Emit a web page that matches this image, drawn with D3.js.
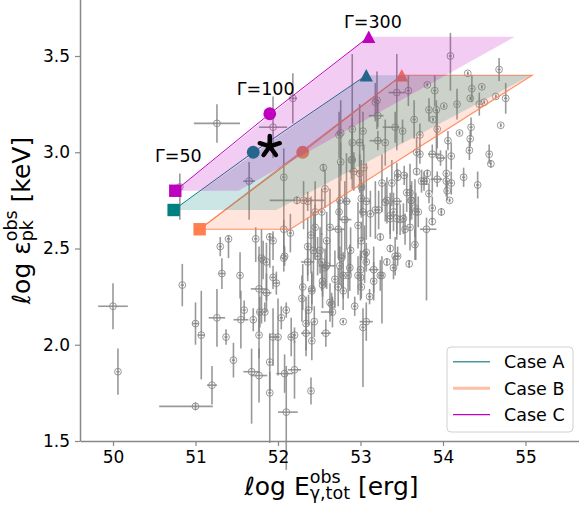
<!DOCTYPE html>
<html><head><meta charset="utf-8">
<script src="https://cdn.jsdelivr.net/npm/d3@7"></script>
<style>body{margin:0;background:#fff;} svg{display:block;font-family:"DejaVu Sans",sans-serif;}</style>
</head><body>
<svg id="chart" width="579" height="506"></svg>
<script>
// ---------------- data ----------------
const xTicks = [50, 51, 52, 53, 54, 55];
const yTicks = [1.5, 2.0, 2.5, 3.0, 3.5];
const xDomain = [49.6, 55.7];
const yDomain = [1.5, 3.8];

// GRB sample: [logE, logEp, xErrLo, xErrHi, yErrLo, yErrHi]
const grbData = [
[50.00,2.20,0.18,0.18,0.12,0.12],[50.06,1.86,0.02,0.02,0.12,0.12],[50.84,2.31,0.02,0.02,0.11,0.11],
[51.00,2.11,0.04,0.04,0.11,0.11],[51.07,2.05,0.04,0.04,0.23,0.23],[51.00,1.68,0.44,0.21,0.02,0.02],
[51.20,1.79,0.06,0.06,0.10,0.10],[51.26,2.14,0.10,0.10,0.15,0.15],[51.32,2.37,0.04,0.04,0.08,0.08],
[51.37,2.04,0.02,0.02,0.04,0.04],[51.46,1.92,0.02,0.02,0.09,0.09],[51.54,2.36,0.02,0.02,0.12,0.12],
[51.55,2.13,0.09,0.09,0.15,0.15],[51.59,2.18,0.02,0.02,0.05,0.05],[51.70,2.13,0.02,0.02,0.06,0.06],
[51.68,1.86,0.10,0.10,0.27,0.12],[51.77,2.05,0.02,0.02,0.12,0.12],[51.77,1.84,0.10,0.10,0.14,0.14],
[51.77,2.29,0.10,0.10,0.22,0.22],[51.78,2.17,0.03,0.03,0.08,0.08],[51.82,2.44,0.02,0.02,0.10,0.10],
[51.84,2.17,0.02,0.02,0.05,0.05],[51.86,2.27,0.06,0.06,0.10,0.10],[51.90,1.91,0.02,0.02,0.15,0.15],
[51.90,1.75,0.02,0.02,0.26,0.11],[51.94,2.04,0.05,0.05,0.15,0.15],[51.94,2.35,0.03,0.03,0.06,0.06],
[51.98,2.32,0.03,0.03,0.06,0.06],[52.00,2.04,0.02,0.02,0.20,0.20],[52.08,2.46,0.02,0.02,0.05,0.05],
[52.04,2.14,0.02,0.02,0.06,0.06],[52.08,1.85,0.10,0.10,0.10,0.10],[52.10,2.18,0.02,0.02,0.04,0.04],
[52.10,1.65,0.10,0.14,0.30,0.24],[52.16,2.04,0.03,0.03,0.10,0.10],[52.20,2.05,0.02,0.02,0.04,0.04],
[52.20,1.87,0.08,0.08,0.15,0.15],[52.29,2.24,0.02,0.02,0.12,0.12],[52.34,2.11,0.02,0.02,0.14,0.14],
[52.34,2.06,0.06,0.06,0.12,0.12],[52.37,2.18,0.02,0.02,0.08,0.08],[52.40,1.76,0.02,0.02,0.07,0.07],
[52.41,2.02,0.02,0.02,0.10,0.10],[52.44,2.12,0.02,0.02,0.08,0.08],[52.41,2.28,0.03,0.03,0.10,0.10],
[52.58,2.06,0.06,0.06,0.07,0.07],[52.65,2.21,0.02,0.02,0.06,0.06],[52.66,2.17,0.14,0.02,0.08,0.08],
[52.79,2.12,0.01,0.01,0.01,0.01],[52.93,2.20,0.02,0.02,0.05,0.05],[53.03,2.09,0.02,0.02,0.31,0.10],
[52.79,2.28,0.02,0.02,0.10,0.10],[53.07,2.48,0.02,0.02,0.05,0.05],[53.07,2.43,0.02,0.02,0.05,0.05],
[53.32,2.43,0.01,0.01,0.02,0.02],[53.40,2.40,0.02,0.02,0.06,0.06],[53.45,2.46,0.03,0.03,0.05,0.05],
[53.59,2.42,0.01,0.01,0.02,0.02],[53.00,2.39,0.02,0.02,0.10,0.10],[53.16,2.39,0.06,0.06,0.12,0.12],
[53.26,2.36,0.02,0.02,0.25,0.10],[53.16,2.33,0.02,0.02,0.10,0.10],[53.01,2.30,0.02,0.02,0.06,0.06],
[53.11,2.25,0.02,0.02,0.04,0.04],[53.07,2.12,0.08,0.08,0.10,0.10],[53.80,2.60,0.08,0.12,0.37,0.06],
[54.09,3.50,0.02,0.02,0.18,0.12],[54.30,3.41,0.01,0.01,0.01,0.01],[54.68,3.43,0.02,0.02,0.06,0.06],
[54.47,3.34,0.01,0.01,0.01,0.01],[54.35,3.33,0.02,0.02,0.07,0.07],[54.33,3.28,0.01,0.01,0.01,0.01],
[54.64,3.29,0.01,0.01,0.01,0.01],[54.76,3.28,0.02,0.02,0.08,0.08],[54.44,3.25,0.02,0.02,0.06,0.06],
[54.50,3.26,0.01,0.01,0.01,0.01],[54.17,3.25,0.02,0.02,0.08,0.08],[54.01,3.24,0.01,0.01,0.01,0.01],
[53.83,3.22,0.02,0.02,0.06,0.06],[53.81,3.35,0.01,0.01,0.01,0.01],[53.58,3.32,0.02,0.02,0.08,0.08],
[53.44,3.31,0.10,0.10,0.30,0.20],[53.90,3.32,0.02,0.02,0.08,0.08],[53.92,3.22,0.02,0.02,0.25,0.05],
[53.65,3.17,0.02,0.02,0.10,0.10],[53.88,3.17,0.01,0.01,0.01,0.01],[53.72,3.09,0.02,0.02,0.06,0.06],
[54.20,3.10,0.01,0.01,0.01,0.01],[54.34,3.13,0.02,0.02,0.05,0.05],[54.33,3.07,0.02,0.02,0.04,0.04],
[54.32,3.01,0.02,0.02,0.05,0.05],[54.70,3.14,0.01,0.01,0.01,0.01],[54.56,2.99,0.02,0.02,0.05,0.05],
[54.58,2.94,0.01,0.01,0.02,0.02],[54.25,2.87,0.02,0.02,0.05,0.05],[54.42,2.83,0.02,0.02,0.07,0.07],
[54.10,2.98,0.02,0.02,0.07,0.07],[54.04,2.89,0.02,0.02,0.12,0.12],[54.04,2.85,0.02,0.02,0.04,0.04],
[53.93,2.86,0.08,0.06,0.04,0.04],[53.97,2.97,0.05,0.06,0.04,0.04],[53.87,2.99,0.05,0.09,0.20,0.05],
[53.68,3.00,0.02,0.02,0.08,0.08],[53.81,2.89,0.01,0.01,0.02,0.02],[53.68,2.90,0.01,0.01,0.02,0.02],
[53.77,2.85,0.02,0.02,0.05,0.05],[54.08,2.75,0.01,0.01,0.01,0.01],[54.05,2.80,0.02,0.02,0.05,0.05],
[53.98,2.69,0.01,0.01,0.02,0.02],[53.87,2.71,0.02,0.02,0.06,0.06],[53.87,2.64,0.01,0.01,0.02,0.02],
[53.67,2.69,0.02,0.02,0.25,0.10],[53.56,2.79,0.02,0.02,0.10,0.10],[53.61,2.75,0.02,0.02,0.08,0.08],
[53.40,2.69,0.02,0.02,0.10,0.10],[53.48,2.65,0.02,0.02,0.08,0.08],[53.54,2.60,0.02,0.02,0.08,0.08],
[53.30,2.74,0.02,0.02,0.10,0.10],[53.24,2.56,0.01,0.01,0.02,0.02],[53.36,2.67,0.02,0.02,0.12,0.12],
[53.45,2.87,0.01,0.01,0.02,0.02],[53.12,2.68,0.02,0.02,0.12,0.12],[53.03,2.69,0.04,0.04,0.15,0.15],
[53.01,2.82,0.02,0.02,0.14,0.14],[52.99,2.89,0.02,0.02,0.10,0.10],[52.92,2.90,0.06,0.06,0.10,0.10],
[52.90,2.96,0.02,0.02,0.15,0.15],[52.90,3.05,0.02,0.02,0.15,0.46],[52.99,3.05,0.04,0.04,0.20,0.20],
[53.03,3.11,0.02,0.02,0.10,0.10],[52.76,2.95,0.02,0.02,0.10,0.10],[52.76,3.10,0.02,0.02,0.21,0.17],
[53.21,3.19,0.11,0.07,0.06,0.06],[53.21,3.06,0.10,0.05,0.05,0.05],[53.30,3.05,0.02,0.02,0.12,0.12],
[53.42,3.13,0.15,0.05,0.08,0.08],[53.51,3.11,0.02,0.02,0.06,0.06],[53.20,3.27,0.02,0.02,0.15,0.15],
[52.07,2.87,0.02,0.02,0.38,0.15],[52.75,2.75,0.02,0.02,0.10,0.10],[52.23,2.75,0.33,0.33,0.02,0.02],
[51.65,2.85,0.07,0.07,0.20,0.10],[52.55,2.92,0.01,0.01,0.02,0.02],[52.31,2.75,0.02,0.02,0.15,0.10],
[52.36,2.745,0.02,0.02,0.05,0.05],[52.57,2.81,0.02,0.02,0.10,0.10],[52.45,2.69,0.02,0.02,0.25,0.16],
[52.53,2.69,0.02,0.02,0.12,0.12],[52.07,2.60,0.02,0.02,0.15,0.05],[52.15,2.58,0.02,0.02,0.10,0.10],
[51.40,2.55,0.02,0.02,0.10,0.02],[51.73,2.55,0.02,0.02,0.12,0.06],[51.90,2.56,0.02,0.02,0.16,0.02],
[51.94,2.54,0.02,0.02,0.10,0.05],[51.80,2.45,0.02,0.02,0.34,0.15],[51.86,2.43,0.02,0.02,0.20,0.10],
[52.07,2.45,0.02,0.02,0.07,0.07],[52.30,2.30,0.02,0.02,0.12,0.12],[52.41,2.29,0.02,0.02,0.08,0.08],
[52.54,2.31,0.02,0.02,0.12,0.12],[52.36,2.51,0.02,0.02,0.15,0.15],[52.43,2.49,0.02,0.02,0.20,0.20],
[52.51,2.49,0.02,0.02,0.12,0.12],[52.48,2.46,0.02,0.02,0.10,0.10],[52.57,2.40,0.02,0.02,0.10,0.10],
[52.36,2.43,0.08,0.08,0.10,0.10],[52.53,2.43,0.02,0.02,0.15,0.15],[52.40,2.57,0.02,0.02,0.20,0.20],
[52.45,2.61,0.02,0.02,0.12,0.12],[53.04,2.92,0.02,0.02,0.12,0.12],[53.45,2.89,0.01,0.01,0.02,0.02],
[53.53,2.88,0.02,0.02,0.05,0.05],[53.26,2.84,0.02,0.02,0.15,0.15],[53.38,2.84,0.02,0.02,0.12,0.12],
[53.74,2.85,0.02,0.02,0.06,0.06],[53.80,2.85,0.01,0.01,0.02,0.02],[53.60,2.79,0.02,0.02,0.15,0.15],
[53.62,2.75,0.02,0.02,0.10,0.10],[53.44,2.745,0.06,0.06,0.20,0.20],[53.32,2.75,0.02,0.02,0.12,0.12],
[53.07,2.745,0.05,0.05,0.20,0.20],[52.83,2.745,0.05,0.05,0.25,0.25],[53.01,2.76,0.02,0.02,0.10,0.10],
[53.18,2.70,0.02,0.02,0.15,0.15],[53.22,2.70,0.02,0.02,0.10,0.10],[53.66,2.71,0.02,0.02,0.15,0.15],
[53.70,2.69,0.02,0.02,0.08,0.08],[52.74,2.69,0.02,0.02,0.25,0.25],[53.36,2.655,0.02,0.02,0.08,0.08],
[53.44,2.655,0.02,0.02,0.08,0.08],[53.52,2.655,0.02,0.02,0.08,0.08],[52.81,2.65,0.08,0.08,0.20,0.20],
[53.60,2.61,0.02,0.02,0.12,0.12],[52.63,2.61,0.02,0.02,0.20,0.20],[52.73,2.60,0.08,0.08,0.15,0.15],
[52.97,2.62,0.02,0.02,0.12,0.12],[53.01,2.54,0.02,0.02,0.10,0.10],[52.59,2.54,0.02,0.02,0.15,0.15],
[53.66,2.52,0.02,0.02,0.08,0.08],[52.88,2.49,0.02,0.02,0.12,0.12],[53.36,2.50,0.01,0.01,0.02,0.02],
[53.42,2.46,0.02,0.02,0.10,0.10],[53.05,2.47,0.02,0.02,0.15,0.15],[52.77,2.45,0.02,0.02,0.15,0.15],
[52.59,2.41,0.10,0.10,0.12,0.12],[52.75,2.41,0.02,0.02,0.10,0.10],[52.87,2.40,0.02,0.02,0.12,0.12],
[52.97,2.36,0.02,0.02,0.10,0.10],[52.85,2.36,0.02,0.02,0.12,0.12],[52.69,2.34,0.02,0.02,0.15,0.15],
[52.73,2.30,0.02,0.02,0.10,0.10],[53.24,2.36,0.02,0.02,0.08,0.08],[52.18,3.28,0.05,0.05,0.13,0.13],
[53.18,3.26,0.02,0.02,0.10,0.10],[52.74,3.09,0.02,0.02,0.12,0.12],[51.26,3.15,0.28,0.28,0.10,0.10],
[51.94,3.13,0.17,0.17,0.16,0.16],[50.81,2.82,0.02,0.02,0.17,0.07],[51.30,2.51,0.02,0.02,0.05,0.05],
[53.93,3.12,0.02,0.02,0.10,0.10],[54.06,3.06,0.02,0.02,0.05,0.05],[53.72,2.99,0.02,0.02,0.05,0.05],
[54.10,2.84,0.02,0.02,0.06,0.06],[53.83,2.785,0.02,0.02,0.05,0.05],[52.89,2.96,0.02,0.02,0.10,0.10],
[52.90,3.12,0.02,0.02,0.06,0.06],[53.00,2.35,0.02,0.02,0.12,0.12],[52.79,2.36,0.02,0.02,0.12,0.12],
[52.54,2.33,0.02,0.02,0.08,0.08],[52.63,2.22,0.02,0.02,0.10,0.10]
];

// Theoretical tracks: Γ = 50 (square), 100 (circle), 300 (triangle)
const caseA_points = [[50.735, 2.70], [51.70, 3.00], [53.07, 3.40]];
const caseB_points = [[51.05, 2.60], [52.30, 3.00], [53.50, 3.40]];
const caseC_points = [[50.755, 2.80], [51.90, 3.20], [53.10, 3.60]];
const caseA_band = [[50.735, 2.70], [53.07, 3.40], [55.07, 3.40], [51.98, 2.70]];
const caseB_band = [[51.05, 2.60], [53.50, 3.40], [55.08, 3.40], [52.15, 2.60]];
const caseC_band = [[50.755, 2.80], [53.10, 3.60], [54.87, 3.60], [51.52, 2.80]];
const caseNames = ["Case A", "Case B", "Case C"];
const gammaLabels = ["Γ=50", "Γ=100", "Γ=300"];
const gammaLabelPos = [[50.51, 2.95], [51.50, 3.30], [52.80, 3.645]];
const starPoint = [51.90, 3.03];

// ---------------- drawing ----------------
const svg = d3.select("#chart");
const x = d3.scaleLinear().domain(xDomain).range([80, 583.25]);
const y = d3.scaleLinear().domain(yDomain).range([441, -1.75]);

const colA = "#008080", colB = "#ff7f50", colC = "#bf00bf";

// data points
const gData = svg.append("g").attr("stroke", "#808080").attr("stroke-opacity", 0.8).attr("fill", "none");
grbData.forEach(d => {
  const [lx, ly, xl, xh, yl, yh] = d;
  gData.append("line").attr("x1", x(lx)).attr("x2", x(lx)).attr("y1", y(ly - yl)).attr("y2", y(ly + yh)).attr("stroke-width", 1.6);
  gData.append("line").attr("x1", x(lx - xl)).attr("x2", x(lx + xh)).attr("y1", y(ly)).attr("y2", y(ly)).attr("stroke-width", 1.6);
  gData.append("circle").attr("cx", x(lx)).attr("cy", y(ly)).attr("r", 3.4).attr("stroke-width", 1);
});

const line = d3.line().x(p => x(p[0])).y(p => y(p[1]));
const triPath = "M0,-6.2L6.6,6.2L-6.6,6.2Z";

function drawCase(band, pts, col, bandStroke) {
  const g = svg.append("g");
  g.append("path").attr("d", line(band) + "Z").attr("fill", col).attr("fill-opacity", 0.2)
    .attr("stroke", bandStroke ? col : "none").attr("stroke-width", 1.2).attr("stroke-opacity", 0.85);
  g.append("path").attr("d", line(pts)).attr("fill", "none").attr("stroke", col).attr("stroke-width", 1);
  g.append("rect").attr("x", x(pts[0][0]) - 6.2).attr("y", y(pts[0][1]) - 6.2).attr("width", 12.4).attr("height", 12.4).attr("fill", col);
  g.append("circle").attr("cx", x(pts[1][0])).attr("cy", y(pts[1][1])).attr("r", 6.4).attr("fill", col);
  g.append("path").attr("d", triPath).attr("transform", `translate(${x(pts[2][0])},${y(pts[2][1])})`).attr("fill", col);
}
drawCase(caseB_band, caseB_points, colB, true);
drawCase(caseA_band, caseA_points, colA, false);
drawCase(caseC_band, caseC_points, colC, false);

// star (observed burst)
const sg = svg.append("g").attr("transform", `translate(${x(starPoint[0])},${y(starPoint[1])})`);
[-90, -18, 54, 126, 198].forEach(a => {
  const r = a * Math.PI / 180;
  sg.append("line").attr("x1", 0).attr("y1", 0).attr("x2", 10.5 * Math.cos(r)).attr("y2", 10.5 * Math.sin(r))
    .attr("stroke", "#000").attr("stroke-width", 4.5).attr("stroke-linecap", "round");
});

// gamma labels
gammaLabels.forEach((t, i) => {
  svg.append("text").attr("x", x(gammaLabelPos[i][0])).attr("y", y(gammaLabelPos[i][1]))
    .attr("font-size", 17.5).attr("fill", "#000").text(t);
});

// axes
const gx = svg.append("g").attr("transform", "translate(0,441)")
  .call(d3.axisBottom(x).tickValues(xTicks).tickSize(5).tickPadding(5).tickSizeOuter(0).tickFormat(d3.format("d")));
const gy = svg.append("g").attr("transform", "translate(80,0)")
  .call(d3.axisLeft(y).tickValues(yTicks).tickSize(5).tickPadding(5).tickSizeOuter(0).tickFormat(d3.format(".1f")));
[gx, gy].forEach(g => {
  g.select(".domain").attr("stroke", "#888").attr("stroke-width", 1.5);
  g.selectAll(".tick line").attr("stroke", "#888").attr("stroke-width", 1.2);
  g.selectAll(".tick text").attr("font-size", 17).attr("font-family", "DejaVu Sans").attr("fill", "#000");
});

// math-like labels
function mathLabel(parent, pieces, size) {
  const t = parent.append("text").attr("font-size", size).attr("text-anchor", "middle").attr("fill", "#000");
  const meas = svg.append("text").attr("font-size", size * 0.7).attr("visibility", "hidden");
  function w(s) { meas.text(s); return meas.node().getComputedTextLength(); }
  pieces.forEach(p => {
    if (typeof p === "string") { t.append("tspan").text(p); }
    else {
      const sw = w(p.sup), bw = w(p.sub);
      const up = size * 0.5, down = size * 0.14;
      t.append("tspan").attr("font-size", size * 0.7).attr("dy", -up).text(p.sup);
      t.append("tspan").attr("font-size", size * 0.7).attr("dx", -sw).attr("dy", up + down).text(p.sub);
      const extra = Math.max(0, sw - bw);
      t.append("tspan").attr("dy", -down).attr("dx", extra).text(p.tail);
    }
  });
  meas.remove();
  return t;
}
const fs = 25;
mathLabel(svg.append("g").attr("transform", "translate(331.5,495)"),
  ["ℓog E", {sup: "obs", sub: "γ,tot", tail: " [erg]"}], fs);
mathLabel(svg.append("g").attr("transform", "translate(29.5,220.5) rotate(-90)"),
  ["ℓog ε", {sup: "obs", sub: "pk", tail: " [keV]"}], fs);

// legend
const lg = svg.append("g");
lg.append("rect").attr("x", 447).attr("y", 347).attr("width", 126).attr("height", 85).attr("rx", 4)
  .attr("fill", "#fff").attr("fill-opacity", 0.8).attr("stroke", "#d0d0d0").attr("stroke-width", 1);
const legStyles = [{c: "#4c9b9b", w: 1.5}, {c: "#ffbfa7", w: 3}, {c: "#bf00bf", w: 1.3}];
caseNames.forEach((n, i) => {
  const yy = 361.7 + i * 26.5;
  lg.append("line").attr("x1", 453).attr("x2", 490).attr("y1", yy).attr("y2", yy)
    .attr("stroke", legStyles[i].c).attr("stroke-width", legStyles[i].w);
  lg.append("text").attr("x", 504).attr("y", yy + 6.5).attr("font-size", 17.5).attr("fill", "#000").text(n);
});
</script>
</body></html>
